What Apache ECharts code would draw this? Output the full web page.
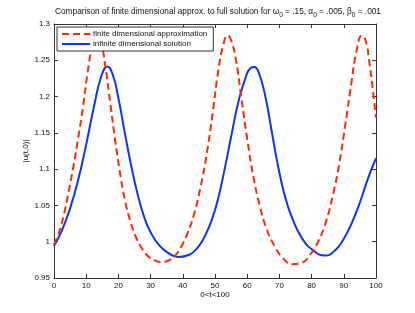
<!DOCTYPE html>
<html>
<head>
<meta charset="utf-8">
<script src="https://cdn.jsdelivr.net/npm/echarts@6/dist/echarts.min.js"></script>
<style>html,body{margin:0;padding:0;background:#fff}#c{width:415px;height:313px}</style>
</head>
<body>
<div id="c"></div>
<script>
// Data
const finiteT = [0, 1.5, 3, 4.5, 6, 7.5, 9, 10.5, 12, 13.3, 14.6, 16, 17.5, 19, 20.5, 22, 23.6, 25.2, 27, 29, 31, 33.4, 35.5, 37.6, 39.5, 41.5, 43.5, 45.5, 47.5, 49.3, 51, 52.5, 53.9, 55.2, 56.6, 58.2, 60, 62, 64, 66, 68.5, 71, 74, 77, 79.5, 82, 84.5, 86.7, 88.5, 90.5, 92.4, 94, 95.6, 96.8, 98, 99, 100];
const finiteV = [0.996, 1.012, 1.036, 1.068, 1.103, 1.143, 1.185, 1.235, 1.272, 1.284, 1.274, 1.24, 1.19, 1.14, 1.095, 1.058, 1.03, 1.009, 0.993, 0.981, 0.975, 0.972, 0.974, 0.981, 0.993, 1.012, 1.038, 1.075, 1.123, 1.178, 1.235, 1.27, 1.284, 1.275, 1.248, 1.198, 1.142, 1.088, 1.048, 1.018, 0.994, 0.978, 0.969, 0.971, 0.982, 1.0, 1.028, 1.066, 1.105, 1.162, 1.22, 1.264, 1.284, 1.277, 1.245, 1.21, 1.171];
const infiniteT = [0, 2.5, 5, 7.5, 10, 12.5, 14.7, 16.6, 18.4, 20, 22, 24, 26, 28, 30, 32.5, 35, 38.6, 42, 44.8, 47, 49, 51, 53, 55.2, 57.5, 59.8, 61, 62.2, 63.5, 65.5, 67.5, 69.5, 71.7, 74, 77, 80.5, 84.2, 87.5, 90, 92.5, 95, 97.5, 100];
const infiniteV = [0.994, 1.016, 1.046, 1.085, 1.134, 1.188, 1.228, 1.2415, 1.228, 1.198, 1.15, 1.104, 1.065, 1.034, 1.013, 0.996, 0.986, 0.979, 0.982, 0.993, 1.009, 1.03, 1.06, 1.1, 1.149, 1.197, 1.23, 1.239, 1.2406, 1.234, 1.203, 1.155, 1.106, 1.063, 1.032, 1.005, 0.988, 0.981, 0.989, 1.004, 1.026, 1.054, 1.087, 1.115];
const seriesNames = ['finite dimensional approximation', 'infinite dimensional solution'];
const xTicks = [0, 10, 20, 30, 40, 50, 60, 70, 80, 90, 100];
const yTicks = [0.95, 1, 1.05, 1.1, 1.15, 1.2, 1.25, 1.3];

const pairs = (t, v) => t.map((x, i) => [x, v[i]]);
const font = 'Liberation Sans, Arial, Helvetica, sans-serif';
const axisCol = '#333';

const chart = echarts.init(document.getElementById('c'), null, {renderer: 'canvas'});
const baseX = {
  type: 'value', min: xTicks[0], max: xTicks[xTicks.length - 1], interval: 10,
  axisLine: {show: true, onZero: false, lineStyle: {color: axisCol, width: 1}},
  axisTick: {show: true, inside: true, length: 4, lineStyle: {color: axisCol}},
  splitLine: {show: false}
};
const baseY = {
  type: 'value', min: yTicks[0], max: yTicks[yTicks.length - 1], interval: 0.05,
  axisLine: {show: true, onZero: false, lineStyle: {color: axisCol, width: 1}},
  axisTick: {show: true, inside: true, length: 4, lineStyle: {color: axisCol}},
  splitLine: {show: false}
};
chart.setOption({
  backgroundColor: '#fff',
  animation: false,
  title: {
    text: 'Comparison of finite dimensional approx. to full solution for ω{s|0} = .15, α{s|0} = .005, β{s|0} = .001',
    left: 50, top: 1,
    textStyle: {
      fontFamily: font, fontSize: 8.3, fontWeight: 'normal', color: '#111', lineHeight: 12,
      rich: {s: {fontFamily: font, fontSize: 6.5, color: '#111', lineHeight: 12, padding: [6, 0, 0, 0]}}
    }
  },
  grid: {left: 54, right: 39, top: 24, bottom: 35, containLabel: false},
  legend: {
    data: seriesNames,
    orient: 'vertical', left: 57, top: 27,
    backgroundColor: '#fff', borderColor: '#333', borderWidth: 1,
    padding: [3, 6, 3, 4], itemGap: 2, itemWidth: 28, itemHeight: 8,
    itemStyle: {opacity: 0, borderWidth: 0},
    textStyle: {fontFamily: font, fontSize: 8, color: '#111', padding: [0, 0, 0, -2]}
  },
  xAxis: [
    Object.assign({}, baseX, {
      position: 'bottom',
      name: '0<t<100', nameLocation: 'middle', nameGap: 13, nameMoveOverlap: false,
      nameTextStyle: {fontFamily: font, fontSize: 8, color: '#111'},
      axisLabel: {fontFamily: font, fontSize: 8, color: '#111', margin: 4}
    }),
    Object.assign({}, baseX, {position: 'top', axisLabel: {show: false}})
  ],
  yAxis: [
    Object.assign({}, baseY, {
      position: 'left',
      name: '|u(t,0)|', nameLocation: 'middle', nameGap: 24, nameMoveOverlap: false,
      nameTextStyle: {fontFamily: font, fontSize: 8, color: '#111'},
      axisLabel: {fontFamily: font, fontSize: 8, color: '#111', margin: 4,
        formatter: v => String(parseFloat(v.toFixed(2)))}
    }),
    Object.assign({}, baseY, {position: 'right', axisLabel: {show: false}})
  ],
  series: [
    {
      name: seriesNames[0], type: 'line', xAxisIndex: 0, yAxisIndex: 0,
      data: pairs(finiteT, finiteV), smooth: 0.5, showSymbol: false, symbol: 'none',
      lineStyle: {color: '#ff2a00', width: 2, type: [7, 4]}, itemStyle: {color: '#ff2a00'}, z: 3
    },
    {
      name: seriesNames[1], type: 'line', xAxisIndex: 0, yAxisIndex: 0,
      data: pairs(infiniteT, infiniteV), smooth: 0.5, showSymbol: false, symbol: 'none',
      lineStyle: {color: '#0a35f5', width: 2}, itemStyle: {color: '#0a35f5'}, z: 2
    }
  ]
});
</script>
</body>
</html>
